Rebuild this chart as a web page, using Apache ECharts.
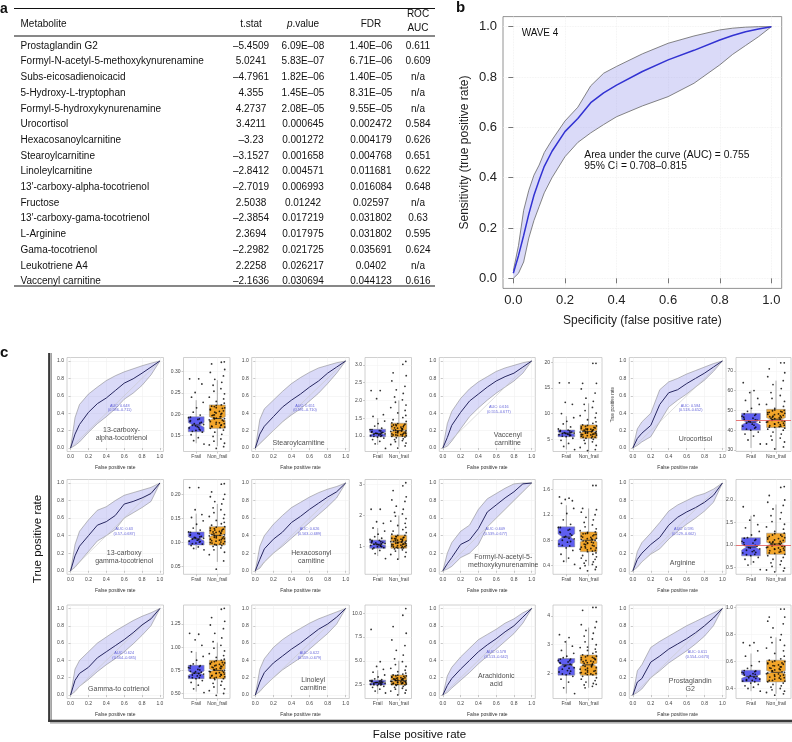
<!DOCTYPE html>
<html><head><meta charset="utf-8">
<script src="https://cdn.jsdelivr.net/npm/echarts@6/dist/echarts.min.js"></script>
<style>html,body{margin:0;padding:0;background:#fff}#c{width:792px;height:742px}</style>
</head><body><div id="c"></div>
<script>
// ================= DATA =================
// ---- Panel a: table
const tableHeader = ['Metabolite', 't.stat', 'p.value', 'FDR', 'ROC', 'AUC'];
const metabolites = ['Prostaglandin G2','Formyl-N-acetyl-5-methoxykynurenamine','Subs-eicosadienoicacid','5-Hydroxy-L-tryptophan','Formyl-5-hydroxykynurenamine','Urocortisol','Hexacosanoylcarnitine','Stearoylcarnitine','Linoleylcarnitine','13\u2032-carboxy-alpha-tocotrienol','Fructose','13\u2032-carboxy-gama-tocotrienol','L-Arginine','Gama-tocotrienol','Leukotriene A4','Vaccenyl carnitine'];
const tStat = ['\u20135.4509','5.0241','\u20134.7961','4.355','4.2737','3.4211','\u20133.23','\u20133.1527','\u20132.8412','\u20132.7019','2.5038','\u20132.3854','2.3694','\u20132.2982','2.2258','\u20132.1636'];
const pValue = ['6.09E\u201308','5.83E\u201307','1.82E\u201306','1.45E\u201305','2.08E\u201305','0.000645','0.001272','0.001658','0.004571','0.006993','0.01242','0.017219','0.017975','0.021725','0.026217','0.030694'];
const fdr = ['1.40E\u201306','6.71E\u201306','1.40E\u201305','8.31E\u201305','9.55E\u201305','0.002472','0.004179','0.004768','0.011681','0.016084','0.02597','0.031802','0.031802','0.035691','0.0402','0.044123'];
const rocAuc = ['0.611','0.609','n/a','n/a','n/a','0.584','0.626','0.651','0.622','0.648','n/a','0.63','0.595','0.624','n/a','0.616'];

// ---- Panel b: ROC with confidence band
const bFpr   = [0,0.02,0.04,0.06,0.08,0.1,0.12,0.15,0.2,0.25,0.3,0.35,0.4,0.5,0.6,0.7,0.8,0.85,0.9,0.95,1];
const bTpr   = [0.02,0.09,0.17,0.255,0.33,0.39,0.445,0.505,0.583,0.635,0.698,0.737,0.768,0.822,0.868,0.906,0.947,0.965,0.98,0.991,1];
const bUpper = [0.03,0.13,0.27,0.35,0.41,0.45,0.5,0.55,0.625,0.68,0.765,0.815,0.842,0.892,0.934,0.963,0.987,0.994,0.998,1,1];
const bLower = [0,0.02,0.065,0.16,0.23,0.285,0.34,0.4,0.483,0.54,0.578,0.611,0.642,0.685,0.722,0.775,0.848,0.89,0.925,0.96,1];
const bTicks = [0,0.2,0.4,0.6,0.8,1.0];
const bNotes = ['WAVE 4', 'Area under the curve (AUC) = 0.755', '95% CI = 0.708\u20130.815'];

// ---- Panel c: small ROC curves (12 metabolites, row by row)
const panelLabels = [['13-carboxy-','alpha-tocotrienol'],['Stearoylcarnitine'],['Vaccenyl','carnitine'],['Urocortisol'],
  ['13-carboxy','gamma-tocotrienol'],['Hexacosonyl','carnitine'],['Formyl-N-acetyl-5-','methoxykynurenamine'],['Arginine'],
  ['Gamma-to cotrienol'],['Linoleyl','carnitine'],['Arachidonic','acid'],['Prostaglandin','G2']];
const aucText = [['AUC: 0.648','(0.586\u20130.711)'],['AUC: 0.651','(0.591\u20130.710)'],['AUC: 0.616','(0.555\u20130.677)'],['AUC: 0.584','(0.518\u20130.652)'],
  ['AUC: 0.63','(0.57\u20130.687)'],['AUC: 0.626','(0.563\u20130.689)'],['AUC: 0.609','(0.539\u20130.677)'],['AUC: 0.595','(0.529\u20130.662)'],
  ['AUC: 0.624','(0.564\u20130.685)'],['AUC: 0.622','(0.559\u20130.679)'],['AUC: 0.578','(0.513\u20130.642)'],['AUC: 0.611','(0.554\u20130.673)']];
const rocFpr = [0,0.05,0.1,0.2,0.3,0.4,0.5,0.6,0.7,0.8,0.9,1];
const rocTpr = [
  [0,0.16,0.27,0.41,0.51,0.575,0.66,0.745,0.795,0.86,0.93,1],
  [0,0.16,0.25,0.36,0.47,0.55,0.62,0.7,0.77,0.86,0.93,1],
  [0,0.12,0.26,0.41,0.54,0.62,0.7,0.77,0.82,0.86,0.93,1],
  [0,0.11,0.17,0.26,0.5,0.635,0.67,0.74,0.8,0.86,0.93,1],
  [0,0.17,0.28,0.4,0.52,0.56,0.63,0.76,0.79,0.83,0.88,1],
  [0,0.13,0.25,0.36,0.44,0.55,0.62,0.7,0.77,0.84,0.9,1],
  [0,0.08,0.15,0.3,0.35,0.48,0.67,0.75,0.83,0.9,0.99,1],
  [0,0.13,0.2,0.3,0.38,0.52,0.61,0.67,0.72,0.78,0.86,1],
  [0,0.17,0.25,0.32,0.43,0.5,0.57,0.64,0.72,0.81,0.88,1],
  [0,0.15,0.26,0.37,0.45,0.53,0.6,0.68,0.76,0.82,0.9,1],
  [0,0.11,0.19,0.3,0.4,0.5,0.58,0.65,0.73,0.8,0.9,1],
  [0,0.15,0.19,0.38,0.45,0.53,0.59,0.65,0.72,0.8,0.89,1]];
const rocUpper = [
  [0,0.35,0.5,0.62,0.7,0.775,0.83,0.875,0.91,0.945,0.975,1],
  [0,0.33,0.45,0.55,0.65,0.74,0.81,0.87,0.92,0.95,0.98,1],
  [0,0.28,0.42,0.57,0.68,0.76,0.82,0.88,0.92,0.95,0.98,1],
  [0,0.22,0.3,0.4,0.67,0.76,0.8,0.85,0.89,0.93,0.97,1],
  [0,0.3,0.45,0.58,0.69,0.73,0.8,0.86,0.89,0.92,0.95,1],
  [0,0.28,0.4,0.53,0.63,0.72,0.78,0.84,0.89,0.93,0.96,1],
  [0,0.2,0.32,0.45,0.52,0.7,0.82,0.88,0.94,0.99,1,1],
  [0,0.22,0.32,0.43,0.55,0.68,0.75,0.8,0.85,0.88,0.93,1],
  [0,0.3,0.4,0.5,0.6,0.67,0.74,0.8,0.86,0.91,0.95,1],
  [0,0.3,0.42,0.55,0.64,0.71,0.77,0.83,0.88,0.92,0.96,1],
  [0,0.22,0.32,0.44,0.54,0.64,0.7,0.76,0.83,0.88,0.95,1],
  [0,0.28,0.35,0.55,0.62,0.68,0.74,0.8,0.85,0.9,0.95,1]];
const rocLower = [
  [0,0.03,0.07,0.18,0.28,0.36,0.45,0.56,0.63,0.72,0.84,1],
  [0,0.05,0.1,0.2,0.3,0.38,0.45,0.54,0.63,0.74,0.86,1],
  [0,0.02,0.08,0.22,0.36,0.46,0.55,0.63,0.7,0.77,0.86,1],
  [0,0.03,0.07,0.13,0.3,0.47,0.55,0.62,0.7,0.78,0.88,1],
  [0,0.04,0.1,0.22,0.34,0.4,0.47,0.6,0.66,0.72,0.79,1],
  [0,0.03,0.1,0.2,0.28,0.37,0.46,0.55,0.64,0.73,0.83,1],
  [0,0.02,0.05,0.15,0.2,0.3,0.5,0.6,0.7,0.8,0.9,1],
  [0,0.04,0.1,0.19,0.25,0.36,0.45,0.53,0.6,0.68,0.78,1],
  [0,0.04,0.1,0.18,0.27,0.35,0.42,0.5,0.59,0.69,0.8,1],
  [0,0.04,0.1,0.2,0.29,0.36,0.43,0.53,0.62,0.71,0.82,1],
  [0,0.03,0.08,0.17,0.26,0.36,0.45,0.53,0.62,0.71,0.83,1],
  [0,0.03,0.07,0.2,0.28,0.37,0.44,0.51,0.59,0.68,0.8,1]];
const rocTicks = [0,0.2,0.4,0.6,0.8,1.0];
const chanceLine = [0, 1];

// ---- Panel c: box plots  (stats: [min, Q1, median, Q3, max])
const groups = ['Frail', 'Non_frail'];
const boxFrail = [[0.132,0.159,0.175,0.194,0.233],[0.75,0.98,1.07,1.19,1.5],[3,5.5,6.2,6.8,9.5],[31,40,44,48.5,60],
  [0.085,0.095,0.108,0.122,0.16],[0.7,0.95,1.08,1.21,1.6],[0.45,0.695,0.85,1.01,1.35],[0.55,0.755,0.95,1.16,1.65],
  [0.52,0.66,0.72,0.804,0.95],[1.5,2.45,2.7,2.95,4.0],[1.3,1.94,2.3,2.52,3.15],[0.38,0.449,0.49,0.536,0.66]];
const boxNonFrail = [[0.125,0.167,0.19,0.222,0.28],[0.7,0.98,1.15,1.36,2.0],[2.7,5.2,6.5,7.8,12],[30,41.3,45.5,50.5,65],
  [0.06,0.095,0.115,0.133,0.18],[0.6,0.95,1.15,1.37,2.0],[0.4,0.62,0.8,0.93,1.3],[0.4,0.79,1.02,1.26,1.9],
  [0.5,0.66,0.75,0.858,1.05],[1.4,2.45,2.9,3.5,5.0],[1.5,1.94,2.3,2.64,3.6],[0.36,0.449,0.52,0.61,0.78]];
const ptsFrail = [
  [0.283,0.283,0.251,0.271,0.24,0.228,0.215,0.205,0.198,0.192,0.188,0.185,0.181,0.178,0.176,0.174,0.171,0.168,0.165,0.162,0.158,0.152,0.145,0.138,0.13],
  [2.28,2.28,2.05,1.6,1.55,1.42,1.35,1.28,1.22,1.18,1.15,1.12,1.1,1.08,1.06,1.05,1.03,1.01,0.99,0.97,0.94,0.9,0.85,0.78,0.65],
  [16,16,12.2,11.8,10,9.2,8.5,8,7.4,7,6.8,6.6,6.4,6.3,6.2,6.1,6,5.9,5.7,5.5,5.2,4.8,4.2,3.6,3],
  [64,60,59,56,55,53,51,49.5,48,47,46,45.5,45,44.5,44,43.5,43,42,41,40,39,38,37,35,33],
  [0.214,0.214,0.168,0.158,0.152,0.145,0.138,0.13,0.126,0.122,0.119,0.116,0.113,0.111,0.109,0.107,0.105,0.103,0.101,0.099,0.097,0.094,0.091,0.088,0.085],
  [2.2,2.2,1.8,1.75,1.6,1.5,1.4,1.32,1.27,1.23,1.2,1.17,1.14,1.12,1.1,1.08,1.06,1.04,1.02,1.0,0.97,0.93,0.88,0.78,0.62],
  [1.48,1.46,1.44,1.42,1.38,1.3,1.22,1.12,1.05,1.0,0.96,0.92,0.88,0.85,0.82,0.8,0.77,0.74,0.71,0.68,0.64,0.58,0.52,0.47,0.42],
  [1.85,1.65,1.55,1.45,1.38,1.3,1.22,1.16,1.12,1.08,1.04,1.0,0.97,0.94,0.91,0.88,0.85,0.82,0.79,0.76,0.72,0.68,0.62,0.55,0.45],
  [1.15,1.14,1.08,1.02,0.95,0.9,0.86,0.82,0.8,0.78,0.76,0.74,0.73,0.72,0.71,0.7,0.69,0.68,0.67,0.66,0.64,0.62,0.59,0.55,0.51],
  [8.3,4.9,4.4,4.1,3.8,3.5,3.3,3.1,3.0,2.9,2.85,2.8,2.75,2.7,2.65,2.6,2.55,2.5,2.45,2.4,2.3,2.2,2.0,1.8,1.6],
  [3.35,3.25,3.1,2.95,2.8,2.7,2.6,2.55,2.5,2.45,2.4,2.35,2.3,2.25,2.2,2.15,2.1,2.05,2.0,1.95,1.9,1.8,1.7,1.5,1.3],
  [0.74,0.74,0.72,0.68,0.64,0.6,0.57,0.55,0.53,0.52,0.51,0.5,0.49,0.48,0.47,0.465,0.46,0.455,0.45,0.44,0.43,0.42,0.41,0.4,0.38]];
const ptsFrailCore = [
  [0.193,0.189,0.183,0.179,0.173,0.169,0.163,0.16],
  [1.18,1.14,1.11,1.09,1.07,1.04,1.02,0.99],
  [6.75,6.65,6.5,6.35,6.15,5.95,5.8,5.6],
  [48.2,47.5,46.5,45.2,44.2,42.5,41.5,40.5],
  [0.121,0.118,0.115,0.112,0.11,0.106,0.102,0.098],
  [1.2,1.16,1.13,1.09,1.07,1.03,1.0,0.96],
  [1.0,0.97,0.93,0.9,0.86,0.83,0.78,0.72],
  [1.15,1.1,1.05,0.99,0.93,0.87,0.83,0.78],
  [0.8,0.79,0.775,0.755,0.735,0.715,0.695,0.67],
  [2.93,2.88,2.82,2.77,2.72,2.62,2.55,2.48],
  [2.5,2.45,2.38,2.32,2.27,2.18,2.08,1.98],
  [0.533,0.525,0.515,0.505,0.495,0.485,0.475,0.46]];
const ptsNonFrail = [
  [0.323,0.322,0.318,0.305,0.298,0.29,0.282,0.275,0.268,0.26,0.254,0.248,0.24,0.236,0.23,0.226,0.222,0.219,0.215,0.212,0.208,0.205,0.202,0.198,0.195,0.192,0.19,0.187,0.184,0.181,0.178,0.175,0.172,0.17,0.167,0.163,0.158,0.153,0.148,0.142,0.137,0.132,0.128,0.124,0.12],
  [3.1,3.02,2.78,2.7,2.55,2.4,2.3,2.2,2.1,2.02,1.95,1.87,1.8,1.72,1.65,1.58,1.52,1.46,1.41,1.37,1.33,1.29,1.26,1.23,1.2,1.17,1.15,1.13,1.11,1.09,1.07,1.05,1.03,1.01,0.99,0.97,0.95,0.92,0.9,0.87,0.84,0.8,0.76,0.72,0.66],
  [19.8,19.8,15.9,15.9,14.8,14,13,12.4,11.8,11.2,10.6,10.1,9.6,9.2,8.8,8.4,8.1,7.8,7.6,7.4,7.2,7,6.9,6.8,6.7,6.6,6.5,6.4,6.3,6.2,6.1,6,5.9,5.8,5.6,5.4,5.2,5,4.8,4.5,4.2,3.8,3.4,3,2.8],
  [74,74,71,69,67,65,63,61,59,57.5,56,54.5,53,52,51,50,49.5,49,48.5,48,47.5,47,46.5,46,45.5,45,44.5,44,43.5,43,42.5,42,41.5,41,40.5,40,39,38,37,36,35,34,33,31.5,30.5],
  [0.222,0.221,0.205,0.2,0.195,0.19,0.185,0.18,0.172,0.168,0.162,0.158,0.154,0.15,0.146,0.142,0.139,0.136,0.133,0.13,0.128,0.126,0.124,0.122,0.12,0.118,0.116,0.114,0.112,0.11,0.108,0.106,0.104,0.102,0.1,0.098,0.096,0.094,0.092,0.089,0.085,0.08,0.075,0.062,0.045],
  [3.05,2.95,2.8,2.6,2.5,2.45,2.3,2.2,2.1,2.05,1.98,1.9,1.82,1.75,1.68,1.62,1.55,1.5,1.45,1.4,1.36,1.32,1.29,1.26,1.23,1.2,1.18,1.16,1.14,1.12,1.1,1.08,1.06,1.04,1.02,1.0,0.98,0.96,0.93,0.9,0.86,0.82,0.75,0.68,0.6],
  [1.66,1.66,1.3,1.28,1.24,1.2,1.16,1.12,1.08,1.04,1.01,0.98,0.95,0.93,0.91,0.89,0.87,0.85,0.83,0.81,0.8,0.78,0.76,0.74,0.72,0.7,0.68,0.66,0.64,0.62,0.6,0.58,0.56,0.54,0.52,0.5,0.48,0.46,0.44,0.42,0.4,0.38,0.36,0.34,0.32],
  [2.3,2.28,2.1,2.0,1.95,1.88,1.8,1.72,1.65,1.58,1.52,1.46,1.4,1.35,1.3,1.26,1.22,1.19,1.16,1.13,1.1,1.07,1.04,1.02,1.0,0.98,0.96,0.94,0.92,0.9,0.88,0.85,0.82,0.79,0.76,0.72,0.68,0.64,0.6,0.56,0.52,0.48,0.44,0.42,0.4],
  [1.42,1.41,1.32,1.28,1.24,1.2,1.15,1.1,1.06,1.02,0.99,0.96,0.93,0.91,0.89,0.87,0.86,0.84,0.83,0.82,0.81,0.8,0.79,0.78,0.77,0.76,0.75,0.74,0.73,0.72,0.71,0.7,0.69,0.68,0.67,0.66,0.65,0.63,0.61,0.59,0.57,0.55,0.53,0.5,0.48],
  [10.5,9.8,8.6,7.9,7.2,6.6,6.1,5.6,5.2,4.9,4.6,4.4,4.2,4.0,3.85,3.7,3.6,3.5,3.4,3.3,3.2,3.15,3.1,3.05,3.0,2.95,2.9,2.85,2.8,2.75,2.7,2.65,2.6,2.55,2.5,2.45,2.4,2.3,2.2,2.1,2.0,1.9,1.8,1.6,1.4],
  [4.3,4.3,4.2,3.8,3.7,3.6,3.5,3.4,3.3,3.2,3.1,3.0,2.9,2.85,2.8,2.75,2.7,2.65,2.6,2.55,2.5,2.45,2.4,2.35,2.3,2.25,2.2,2.15,2.1,2.05,2.0,1.95,1.9,1.85,1.8,1.75,1.7,1.65,1.6,1.55,1.5,1.62,2.02,2.48,2.92],
  [0.99,0.99,0.93,0.93,0.9,0.88,0.85,0.8,0.78,0.76,0.74,0.72,0.7,0.68,0.66,0.64,0.62,0.61,0.6,0.59,0.58,0.57,0.56,0.55,0.54,0.53,0.52,0.51,0.5,0.49,0.48,0.47,0.46,0.455,0.45,0.44,0.43,0.42,0.41,0.4,0.39,0.38,0.37,0.36,0.35]];
const ptsNonFrailCore = [
  [0.221,0.218,0.214,0.21,0.207,0.203,0.2,0.197,0.194,0.191,0.189,0.186,0.183,0.18,0.177,0.174,0.171,0.169,0.2155,0.1985],
  [1.35,1.32,1.3,1.27,1.25,1.22,1.19,1.16,1.14,1.12,1.1,1.08,1.06,1.04,1.02,1.0,1.31,1.21,1.13,1.03],
  [7.7,7.5,7.3,7.1,6.95,6.85,6.75,6.6,6.45,6.35,6.25,6.05,5.95,5.85,5.7,5.55,5.4,5.3,7.0,6.2],
  [50.2,49.8,49.2,48.8,48.2,47.8,47.2,46.8,46.2,45.8,45.2,44.8,44.2,43.8,43.2,42.8,42.2,41.8,41.4,46.6],
  [0.132,0.129,0.127,0.125,0.123,0.121,0.119,0.117,0.115,0.113,0.111,0.109,0.107,0.105,0.103,0.101,0.099,0.097,0.095,0.114],
  [1.36,1.33,1.3,1.27,1.24,1.21,1.19,1.17,1.15,1.13,1.11,1.09,1.07,1.05,1.03,1.01,0.99,0.97,0.96,1.25],
  [0.925,0.905,0.885,0.865,0.845,0.825,0.81,0.79,0.77,0.75,0.73,0.71,0.69,0.67,0.65,0.63,0.9,0.82,0.76,0.68],
  [1.25,1.22,1.19,1.16,1.14,1.11,1.08,1.06,1.03,1.01,0.99,0.97,0.95,0.93,0.91,0.89,0.87,0.84,0.81,1.05],
  [0.855,0.845,0.835,0.825,0.815,0.805,0.795,0.785,0.775,0.765,0.755,0.745,0.735,0.725,0.715,0.705,0.695,0.685,0.675,0.665],
  [3.48,3.42,3.35,3.28,3.22,3.18,3.12,3.08,3.02,2.98,2.92,2.88,2.82,2.78,2.72,2.68,2.62,2.58,2.52,2.48],
  [2.62,2.58,2.53,2.48,2.43,2.38,2.33,2.28,2.23,2.18,2.13,2.08,2.03,1.98,1.96,2.56,2.41,2.26,2.11,2.0],
  [0.605,0.598,0.59,0.583,0.575,0.568,0.56,0.553,0.545,0.538,0.53,0.523,0.515,0.508,0.5,0.493,0.485,0.478,0.47,0.46]];
const boxAxisMin = [0.1127,0.563,2.62,29.2, 0.0343,0.115,0.265,0.344, 0.446,1.02,1.127,0.3256];
const boxAxisMax = [0.3331,3.211,20.93,76.7, 0.2307,3.154,1.754,2.457, 1.456,10.88,4.384,1.02];
const boxTicks = [[0.15,0.2,0.25,0.3],[1,1.5,2,2.5,3],[5,10,15,20],[30,40,50,60,70],
  [0.05,0.1,0.15,0.2],[1,2,3],[0.4,0.8,1.2,1.6],[0.5,1,1.5,2],
  [0.5,0.75,1,1.25],[2.5,5,7.5,10],[2,3,4],[0.4,0.6,0.8,1.0]];
const boxTickDecimals = [2,1,0,0, 2,0,1,1, 2,1,0,1];
const refLineValue = [null,null,null,45, null,null,null,1.0, null,null,null,null];

// ================= LAYOUT / STYLE =================
const FONT = '"Liberation Sans", Arial, Helvetica, sans-serif';
const rocCols = [[67,163.5],[251.7,349.3],[439.3,535.3],[629.3,726]];
const boxCols = [[183.5,230],[365,411.5],[553,602],[736,791]];
const rowsY = [[357.5,451.5],[479.5,574.3],[605,698.5]];
const labelPos = [[0.57,0.16],[0.48,0.06],[0.73,0.10],[0.70,0.10],[0.6,0.16],[0.62,0.16],[0.68,0.115],[0.555,0.09],[0.54,0.07],[0.64,0.13],[0.6,0.17],[0.64,0.12]];
const aucPos = [[0.55,0.46],[0.55,0.46],[0.63,0.44],[0.645,0.46],[0.6,0.45],[0.6,0.45],[0.59,0.45],[0.57,0.45],[0.6,0.46],[0.6,0.46],[0.6,0.47],[0.72,0.47]];
const JIT = [-0.31,0.12,-0.05,0.27,-0.22,0.33,0.02,-0.14,0.19,-0.36,0.08,-0.27,0.24,-0.09,0.35,-0.18,0.05,-0.33,0.15,-0.01,0.29,-0.24,0.1,-0.12,0.37,-0.29,0.21,-0.06,0.31,-0.2,0.03,-0.35,0.17,-0.1,0.26,-0.16,0.07,-0.25,0.34,-0.03,0.22,-0.38,0.13,-0.08,0.3];
const groupColors = ['#5e5ef0', '#f2a52a'];
const BAND_FILL = 'rgba(150,150,235,0.35)';

// ================= BUILD =================
const opt = {animation:false, textStyle:{fontFamily:FONT}, grid:[], xAxis:[], yAxis:[], series:[], graphic:[]};
function addGrid(l,t,r,b,x,y,g){
  const gi = opt.grid.length;
  opt.grid.push(Object.assign({left:l, top:t, width:r-l, height:b-t, show:true, borderColor:'#c4c4c4', borderWidth:0.8, backgroundColor:'rgba(0,0,0,0)'}, g||{}));
  opt.xAxis.push(Object.assign({gridIndex:gi, type:'value'}, x));
  opt.yAxis.push(Object.assign({gridIndex:gi, type:'value'}, y));
  return gi;
}
function txt(s, x, y, size, o){
  return Object.assign({type:'text', x:x, y:y, silent:true, style:Object.assign({text:s, fill:'#111', fontSize:size, fontFamily:FONT, textAlign:'left', textVerticalAlign:'middle', align:'left', verticalAlign:'middle'}, (o&&o.style)||{})}, o&&o.el||{});
}
function hline(x1,x2,y,w,c){ return {type:'line', silent:true, shape:{x1:x1,y1:y,x2:x2,y2:y}, style:{stroke:c||'#111', lineWidth:w}}; }
function vline(x,y1,y2,w,c){ return {type:'line', silent:true, shape:{x1:x,y1:y1,x2:x,y2:y2}, style:{stroke:c||'#111', lineWidth:w}}; }
// confidence band drawn as one polygon through the axes' own scales
function bandSeries(gi, xs, lo, hi){
  return {type:'custom', xAxisIndex:gi, yAxisIndex:gi, silent:true, z:1,
    data: xs.map((x,i)=>[x, lo[i], hi[i]]),
    renderItem: function(params, api){
      if (params.dataIndex !== 0) return null;
      const up = xs.map((x,i)=>api.coord([x, hi[i]]));
      const dn = xs.map((x,i)=>api.coord([x, lo[i]])).reverse();
      return {type:'polygon', shape:{points:up.concat(dn)}, style:{fill:BAND_FILL}};
    }};
}
function lineSeries(gi, xs, ys, color, width, z){
  return {type:'line', xAxisIndex:gi, yAxisIndex:gi, symbol:'none', silent:true, z:z||2,
    data: xs.map((x,i)=>[x, ys[i]]), lineStyle:{color:color, width:width}};
}

// ---- Panel a
const G = opt.graphic;
const TF = 10;
G.push(txt('a', 0, 9, 14, {style:{fontWeight:'bold'}}));
G.push(txt('b', 456, 8, 15, {style:{fontWeight:'bold'}}));
G.push(txt('c', 0, 353, 15, {style:{fontWeight:'bold'}}));
G.push(hline(14, 435, 8.5, 1.2));
G.push(hline(14, 435, 36, 1));
const colX = [20.5, 251, 303, 371, 418];
const rowY0 = 46, rowDY = 15.7;
const hs = {style:{textAlign:'center', align:'center'}};
G.push(txt(tableHeader[0], colX[0], 24, TF));
G.push(txt(tableHeader[1], colX[1], 24, TF, hs));
G.push({type:'text', x:colX[2], y:24, silent:true, style:{text:'{i|p}.value', fill:'#111', fontSize:TF, fontFamily:FONT, textAlign:'center', align:'center', textVerticalAlign:'middle', verticalAlign:'middle', rich:{i:{fontStyle:'italic', fontSize:TF, fontFamily:FONT, fill:'#111'}}}});
G.push(txt(tableHeader[3], colX[3], 24, TF, hs));
G.push(txt(tableHeader[4], colX[4], 14, TF, hs));
G.push(txt(tableHeader[5], colX[4], 28.5, TF, hs));
metabolites.forEach((m,i)=>{
  const y = rowY0 + i*rowDY;
  G.push(txt(m, colX[0], y, TF));
  G.push(txt(tStat[i], colX[1], y, TF, hs));
  G.push(txt(pValue[i], colX[2], y, TF, hs));
  G.push(txt(fdr[i], colX[3], y, TF, hs));
  G.push(txt(rocAuc[i], colX[4], y, TF, hs));
});
G.push(hline(14, 435, 286, 1.2));

// ---- Panel b
const bAxis = (name, gap) => ({min:-0.04, max:1.04, axisLine:{show:false},
  axisTick:{show:true, customValues:bTicks, length:5, lineStyle:{color:'#555', width:0.8}},
  axisLabel:{customValues:bTicks, fontSize:13, color:'#222', margin:6, formatter:v=>v.toFixed(1)},
  splitLine:{show:true, lineStyle:{color:'#efefef', width:0.8, type:'dotted'}},
  name:name, nameLocation:'middle', nameGap:gap, nameTextStyle:{fontSize:12, color:'#222'}});
const gb = addGrid(503, 16.6, 781.7, 288.4, bAxis('Specificity (false positive rate)', 26), bAxis('Sensitivity (true positive rate)', 32), {borderColor:'#777'});
opt.series.push(bandSeries(gb, bFpr, bLower, bUpper));
opt.series.push(lineSeries(gb, bFpr, bLower, '#666', 0.8, 2));
opt.series.push(lineSeries(gb, bFpr, bUpper, '#666', 0.8, 2));
opt.series.push(lineSeries(gb, bFpr, bTpr, '#3232d2', 1.5, 4));
G.push(txt(bNotes[0], 521.7, 33, 10));
G.push(txt(bNotes[1], 584.3, 155, 10.3));
G.push(txt(bNotes[2], 584.3, 166, 10.3));

// ---- Panel c frame & titles
G.push(vline(49.2, 353, 721.8, 2.2, '#3a3a3a'));
G.push(vline(51.3, 353, 720, 1.2, '#9a9a9a'));
G.push(hline(48.1, 792, 720.8, 2.2, '#3a3a3a'));
G.push(hline(50, 792, 722.8, 1.2, '#9a9a9a'));
G.push({type:'text', x:37.7, y:539, rotation:Math.PI/2, silent:true, style:{text:'True positive rate', fill:'#111', fontSize:11.5, fontFamily:FONT, textAlign:'center', align:'center', textVerticalAlign:'middle', verticalAlign:'middle'}});
G.push(txt('False positive rate', 419.5, 735, 11.5, hs));

function rocAxis(name, gap, nameSize){
  return {min:-0.04, max:1.04, axisLine:{show:false},
    axisTick:{show:true, customValues:rocTicks, length:2, lineStyle:{color:'#999', width:0.5}},
    axisLabel:{customValues:rocTicks, fontSize:5, color:'#444', margin:3, formatter:v=>v.toFixed(1)},
    splitLine:{show:true, lineStyle:{color:'#ededed', width:0.5}},
    name:name||'', nameLocation:'middle', nameGap:gap||14, nameTextStyle:{fontSize:nameSize||5, color:'#333'}};
}
function renderBox(params, api){
  const x = api.value(0), lo = api.value(1), q1 = api.value(2), md = api.value(3), q3 = api.value(4), hi = api.value(5);
  const w = api.size([0.75, 0])[0];
  const cx = api.coord([x, md])[0];
  const yLo = api.coord([x, lo])[1], yHi = api.coord([x, hi])[1];
  const y1 = api.coord([x, q1])[1], y3 = api.coord([x, q3])[1], ym = api.coord([x, md])[1];
  const ratio = params.dataIndex === 0 ? 0.16 : 0.08;
  const n = Math.min((y1 - y3) * ratio, Math.min(y1 - ym, ym - y3) * 0.95);
  const hw = w/2, ins = w/4;
  const pts = [[cx-hw,y3],[cx+hw,y3],[cx+hw,ym-n],[cx+hw-ins,ym],[cx+hw,ym+n],[cx+hw,y1],[cx-hw,y1],[cx-hw,ym+n],[cx-hw+ins,ym],[cx-hw,ym-n]];
  return {type:'group', children:[
    {type:'line', shape:{x1:cx, y1:yHi, x2:cx, y2:yLo}, style:{stroke:'#7a7a7a', lineWidth:0.6}},
    {type:'polygon', shape:{points:pts}, style:{fill:groupColors[params.dataIndex], stroke:'#8a8a8a', lineWidth:0.5}},
    {type:'line', shape:{x1:cx-hw+ins, y1:ym, x2:cx+hw-ins, y2:ym}, style:{stroke:'#333', lineWidth:0.9}}
  ]};
}

for (let k = 0; k < 12; k++){
  const r = Math.floor(k/4), c = k % 4;
  const [t, b] = rowsY[r];
  // ROC panel
  const gi = addGrid(rocCols[c][0], t, rocCols[c][1], b,
    rocAxis('False positive rate', 14),
    k === 3 ? rocAxis('True positive rate', 14, 4.6) : rocAxis(''));
  opt.series.push(bandSeries(gi, rocFpr, rocLower[k], rocUpper[k]));
  opt.series.push(lineSeries(gi, rocFpr, rocLower[k], '#7a7a7a', 0.5, 2));
  opt.series.push(lineSeries(gi, rocFpr, rocUpper[k], '#7a7a7a', 0.5, 2));
  opt.series.push(lineSeries(gi, chanceLine, chanceLine, '#c8c8c8', 0.6, 2));
  opt.series.push(lineSeries(gi, rocFpr, rocTpr[k], '#262660', 1, 4));
  opt.series.push({type:'scatter', xAxisIndex:gi, yAxisIndex:gi, silent:true, symbolSize:1, itemStyle:{color:'rgba(0,0,0,0)'},
    data:[labelPos[k]], label:{show:true, position:'inside', formatter:panelLabels[k].join('\n'), fontSize:7, lineHeight:8, color:'#1a1a1a', fontFamily:FONT}, z:5});
  opt.series.push({type:'scatter', xAxisIndex:gi, yAxisIndex:gi, silent:true, symbolSize:1, itemStyle:{color:'rgba(0,0,0,0)'},
    data:[aucPos[k]], label:{show:true, position:'inside', formatter:aucText[k].join('\n'), fontSize:3.8, lineHeight:4.6, color:'#3b3bd0', fontFamily:FONT}, z:5});

  // Box panel
  const dec = boxTickDecimals[k];
  const bi = addGrid(boxCols[c][0], t, boxCols[c][1], b,
    {min:0.4, max:2.6, axisLine:{show:false},
     axisTick:{show:true, customValues:[1,2], length:2, lineStyle:{color:'#999', width:0.5}},
     axisLabel:{customValues:[1,2], fontSize:5, color:'#444', margin:3, formatter:v=>groups[Math.round(v)-1]},
     splitLine:{show:true, lineStyle:{color:'#f0f0f0', width:0.5}}},
    {min:boxAxisMin[k], max:boxAxisMax[k], axisLine:{show:false},
     axisTick:{show:true, customValues:boxTicks[k], length:2, lineStyle:{color:'#999', width:0.5}},
     axisLabel:{customValues:boxTicks[k], fontSize:5, color:'#444', margin:3, formatter:v=>v.toFixed(dec)},
     splitLine:{show:true, lineStyle:{color:'#f0f0f0', width:0.5}}});
  opt.series.push({type:'custom', xAxisIndex:bi, yAxisIndex:bi, silent:true, renderItem:renderBox,
    data:[[1].concat(boxFrail[k]), [2].concat(boxNonFrail[k])], z:2});
  const L = JIT.length;
  const pts = ptsFrail[k].map((v,i)=>[1 + JIT[i % L], v])
    .concat(ptsFrailCore[k].map((v,i)=>[1 + JIT[(i*7+11) % L], v]))
    .concat(ptsNonFrail[k].map((v,i)=>[2 + JIT[(i*3+5) % L], v]))
    .concat(ptsNonFrailCore[k].map((v,i)=>[2 + JIT[(i*5+2) % L], v]));
  const sc = {type:'scatter', xAxisIndex:bi, yAxisIndex:bi, silent:true, symbolSize:1.8, itemStyle:{color:'#000'}, data:pts, z:3};
  if (refLineValue[k] !== null) {
    sc.markLine = {silent:true, symbol:'none', label:{show:false}, lineStyle:{color:'#e25555', width:0.8, type:'solid'}, data:[{yAxis:refLineValue[k]}]};
  }
  opt.series.push(sc);
}

const chart = echarts.init(document.getElementById('c'), null, {renderer:'canvas'});
chart.setOption(opt);
</script></body></html>
